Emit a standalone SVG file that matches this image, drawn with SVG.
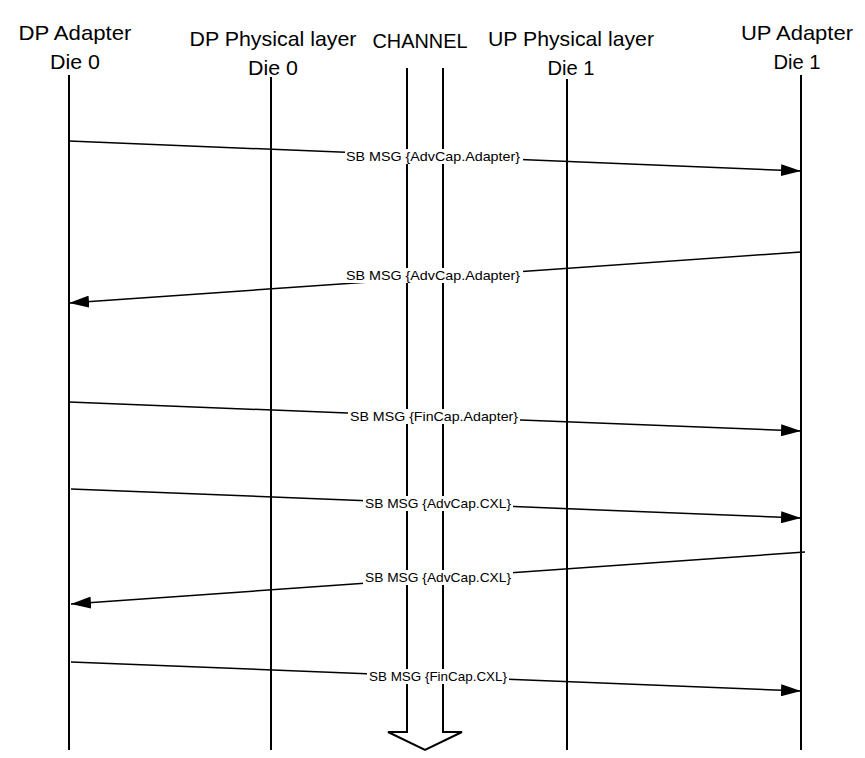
<svg xmlns="http://www.w3.org/2000/svg" width="865" height="758" viewBox="0 0 865 758">
<defs>
<marker id="ah" markerWidth="20" markerHeight="12" refX="20" refY="6" orient="auto" markerUnits="userSpaceOnUse">
<path d="M0,0 L20,6 L0,12 Z" fill="#000"/>
</marker>
<style>
.hd{font-family:"Liberation Sans",Arial,sans-serif;font-size:21px;fill:#000;text-anchor:middle}
.lb{font-family:"Liberation Sans",Arial,sans-serif;font-size:13.5px;fill:#000;text-anchor:middle}
.ll{stroke:#000;stroke-width:2;fill:none}
.msg{stroke:#000;stroke-width:1.5;fill:none;marker-end:url(#ah)}
.bg{fill:#fff}
</style>
</defs>
<rect width="865" height="758" fill="#fff"/>
<g id="dp-adapter">
<text class="hd" x="75" y="40" textLength="113" lengthAdjust="spacingAndGlyphs">DP Adapter</text>
<text class="hd" x="75" y="69" textLength="50" lengthAdjust="spacingAndGlyphs">Die 0</text>
<line class="ll" x1="69" y1="75" x2="69" y2="750"/>
</g>
<g id="dp-phys">
<text class="hd" x="273" y="46" textLength="167" lengthAdjust="spacingAndGlyphs">DP Physical layer</text>
<text class="hd" x="273" y="75" textLength="50" lengthAdjust="spacingAndGlyphs">Die 0</text>
<line class="ll" x1="271" y1="77" x2="271" y2="750"/>
</g>
<g id="channel">
<text class="hd" x="420" y="48" textLength="95" lengthAdjust="spacingAndGlyphs">CHANNEL</text>
<path class="ll" d="M407,68 V732 H388 L425,750 L462,732 H443 V68" stroke-width="1.5"/>
</g>
<g id="up-phys">
<text class="hd" x="571" y="46" textLength="166" lengthAdjust="spacingAndGlyphs">UP Physical layer</text>
<text class="hd" x="571" y="75" textLength="47" lengthAdjust="spacingAndGlyphs">Die 1</text>
<line class="ll" x1="567" y1="79" x2="567" y2="750"/>
</g>
<g id="up-adapter">
<text class="hd" x="797" y="40" textLength="112" lengthAdjust="spacingAndGlyphs">UP Adapter</text>
<text class="hd" x="797" y="69" textLength="47" lengthAdjust="spacingAndGlyphs">Die 1</text>
<line class="ll" x1="801" y1="75" x2="801" y2="750"/>
</g>
<g id="connectors">
<line class="msg" x1="69" y1="141" x2="801" y2="171"/>
<rect class="bg" x="345" y="149" width="178" height="15"/>
<text class="lb" x="433" y="161" textLength="174" lengthAdjust="spacingAndGlyphs">SB MSG {AdvCap.Adapter}</text>
<line class="msg" x1="801" y1="252" x2="69" y2="303"/>
<rect class="bg" x="345" y="268" width="178" height="15"/>
<text class="lb" x="433" y="280" textLength="174" lengthAdjust="spacingAndGlyphs">SB MSG {AdvCap.Adapter}</text>
<line class="msg" x1="69" y1="402" x2="801" y2="431"/>
<rect class="bg" x="348" y="409" width="172" height="15"/>
<text class="lb" x="434" y="421" textLength="168" lengthAdjust="spacingAndGlyphs">SB MSG {FinCap.Adapter}</text>
<line class="msg" x1="71" y1="489" x2="801" y2="518"/>
<rect class="bg" x="363" y="496" width="150" height="15"/>
<text class="lb" x="438" y="508" textLength="146" lengthAdjust="spacingAndGlyphs">SB MSG {AdvCap.CXL}</text>
<line class="msg" x1="805" y1="552" x2="71" y2="604"/>
<rect class="bg" x="363" y="570" width="150" height="15"/>
<text class="lb" x="438" y="582" textLength="146" lengthAdjust="spacingAndGlyphs">SB MSG {AdvCap.CXL}</text>
<line class="msg" x1="71" y1="662" x2="801" y2="691"/>
<rect class="bg" x="367" y="669" width="142" height="15"/>
<text class="lb" x="438" y="681" textLength="138" lengthAdjust="spacingAndGlyphs">SB MSG {FinCap.CXL}</text>
</g>
</svg>
